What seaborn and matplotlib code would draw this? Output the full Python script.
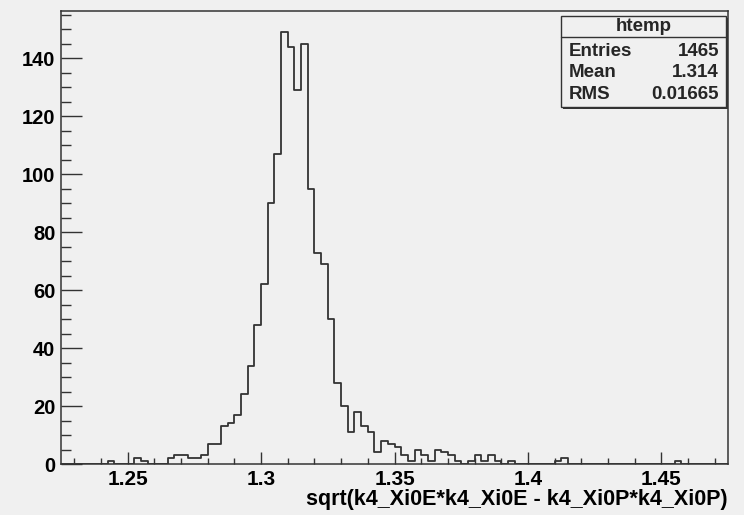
import numpy as np
import pandas as pd
import seaborn as sns
import matplotlib.pyplot as plt
from matplotlib.patches import Rectangle
from matplotlib.ticker import MultipleLocator

# histogram htemp: 100 bins between 1.225 and 1.475
X_MIN = 1.225
X_MAX = 1.475
N_BINS = 100

counts = [
    0, 0, 0, 0, 0, 0, 0, 1, 0, 0,
    0, 2, 1, 0, 0, 0, 2, 3, 3, 2,
    2, 3, 7, 7, 13, 14, 17, 24, 34, 48,
    62, 90, 107, 149, 144, 129, 145, 95, 73, 69,
    50, 28, 20, 11, 18, 13, 11, 4, 8, 7,
    6, 3, 1, 5, 3, 1, 5, 4, 3, 1,
    0, 1, 3, 1, 3, 1, 0, 1, 0, 0,
    0, 0, 0, 0, 1, 2, 0, 0, 0, 0,
    0, 0, 0, 0, 0, 0, 0, 0, 0, 0,
    0, 0, 1, 0, 0, 0, 0, 0, 0, 0,
]

stat_names = ["Entries", "Mean", "RMS"]
stat_values = ["1465", "1.314", "0.01665"]
hist_name = "htemp"
x_title = "sqrt(k4_Xi0E*k4_Xi0E - k4_Xi0P*k4_Xi0P)"

BG = "#f0f0f0"
INK = "#333333"
FONT = "Liberation Sans"

sns.set_style("white")
plt.rcParams["font.family"] = [FONT, "DejaVu Sans"]
plt.rcParams["font.weight"] = "bold"

edges = np.linspace(X_MIN, X_MAX, N_BINS + 1)
centers = (edges[:-1] + edges[1:]) / 2
df = pd.DataFrame({"x": centers, "w": counts})

fig = plt.figure(figsize=(7.44, 5.15), dpi=100, facecolor=BG)
ax = fig.add_axes([0.082, 0.099, 0.8965, 0.880], facecolor=BG)

sns.histplot(
    data=df,
    x="x",
    weights="w",
    bins=edges.tolist(),
    element="step",
    fill=False,
    color=INK,
    linewidth=1.3,
    ax=ax,
)

ax.set_xlim(X_MIN, X_MAX)
ax.set_ylim(0, max(counts) * 1.05)

ax.xaxis.set_major_locator(MultipleLocator(0.05))
ax.xaxis.set_minor_locator(MultipleLocator(0.01))
ax.yaxis.set_major_locator(MultipleLocator(20))
ax.yaxis.set_minor_locator(MultipleLocator(5))
ax.set_xticks([1.25, 1.3, 1.35, 1.4, 1.45])
ax.set_xticklabels(["1.25", "1.3", "1.35", "1.4", "1.45"])

ax.tick_params(axis="x", which="major", direction="in", length=9, width=1,
               color=INK, labelsize=15, pad=4, top=False, bottom=True)
ax.tick_params(axis="x", which="minor", direction="in", length=4.5, width=1,
               color=INK, top=False, bottom=True)
ax.tick_params(axis="y", which="major", direction="in", length=15, width=1,
               color=INK, labelsize=14.5, pad=4, right=False, left=True)
ax.tick_params(axis="y", which="minor", direction="in", length=7.5, width=1,
               color=INK, right=False, left=True)
for lab in ax.get_xticklabels() + ax.get_yticklabels():
    lab.set_fontweight("bold")
    lab.set_color("black")

for sp in ax.spines.values():
    sp.set_color(INK)
    sp.set_linewidth(1.1)

ax.set_ylabel("")
ax.set_xlabel(x_title, loc="right", fontsize=15.5, fontweight="bold",
              labelpad=0, color="black")

# stats box
bx0, bx1 = 561 / 744, 726 / 744
by0, by1 = 1 - 107 / 515, 1 - 16 / 515
sep = 1 - 36.7 / 515
shadow = Rectangle((bx0 + 0.003, by0 - 0.004), bx1 - bx0, by1 - by0,
                   transform=fig.transFigure, facecolor=INK, edgecolor="none",
                   zorder=5)
box = Rectangle((bx0, by0), bx1 - bx0, by1 - by0, transform=fig.transFigure,
                facecolor=BG, edgecolor=INK, linewidth=1, zorder=6)
fig.patches.extend([shadow, box])
fig.lines.append(plt.Line2D([bx0, bx1], [sep, sep], transform=fig.transFigure,
                            color=INK, linewidth=1, zorder=7))
fig.text((bx0 + bx1) / 2, 1 - 26.7 / 515, hist_name, ha="center", va="center",
         fontsize=13.5, fontweight="bold", zorder=8)
row_y = [1 - 51.7 / 515, 1 - 72.7 / 515, 1 - 94.3 / 515]
for name, val, yy in zip(stat_names, stat_values, row_y):
    fig.text(569 / 744, yy, name, ha="left", va="center", fontsize=13.5,
             fontweight="bold", zorder=8)
    fig.text(719 / 744, yy, val, ha="right", va="center", fontsize=13.5,
             fontweight="bold", zorder=8)

fig.savefig("out.png", dpi=100, facecolor=BG)
